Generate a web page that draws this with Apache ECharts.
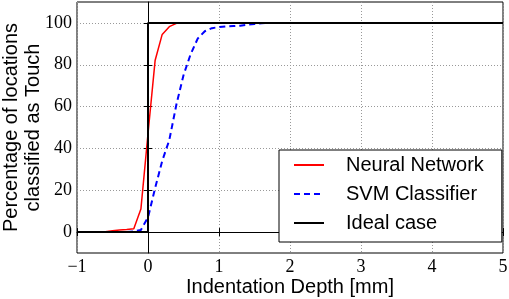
<!DOCTYPE html>
<html>
<head>
<meta charset="utf-8">
<script src="https://cdn.jsdelivr.net/npm/echarts@6/dist/echarts.min.js"></script>
<style>
html,body{margin:0;padding:0;background:#fff;}
#c{width:509px;height:299px;}
</style>
</head>
<body>
<div id="c"></div>
<script>
// Data
var nnX = [-1, -0.9, -0.8, -0.7, -0.6, -0.5, -0.4, -0.3, -0.2, -0.1, 0, 0.1, 0.2, 0.3, 0.4, 0.5, 5];
var nnY = [0, 0, 0, 0, 0.2, 0.6, 1, 1.2, 1.6, 11, 47, 82, 94.5, 98.2, 99.8, 100, 100];

var svmX = [-1, -0.9, -0.8, -0.7, -0.6, -0.5, -0.4, -0.3, -0.2, -0.1, 0, 0.1, 0.2, 0.3, 0.4, 0.5, 0.6, 0.7, 0.8, 0.9, 1.0, 1.1, 1.2, 1.3, 1.4, 1.5, 1.6, 1.7, 5];
var svmY = [0, 0, 0, 0, 0, 0, 0, 0, 0.3, 1, 7, 21, 34, 44, 61, 75, 85, 92.5, 96, 97.5, 98, 98.3, 98.5, 98.7, 99.2, 99.5, 99.8, 100, 100];

var idealX = [-1, 0, 0, 5];
var idealY = [0, 0, 100, 100];

var xTicks = [-1, 0, 1, 2, 3, 4, 5];
var yTicks = [0, 20, 40, 60, 80, 100];

var seriesNames = ['Neural Network', 'SVM Classifier', 'Ideal case'];

function pairs(xs, ys) { return xs.map(function (x, i) { return [x, ys[i]]; }); }
function fmtNum(v) { return (v < 0 ? '\u2212' + Math.abs(v) : String(v)); }

var serif = 'Liberation Serif';
var sans = 'Liberation Sans';

var chart = echarts.init(document.getElementById('c'), null, { renderer: 'canvas' });
chart.setOption({
  animation: false,
  backgroundColor: '#fff',
  grid: { left: 77, right: 6, top: 2, bottom: 46, show: true, borderColor: '#000', borderWidth: 1, containLabel: false, outerBoundsMode: 'none' },
  legend: {
    orient: 'vertical',
    left: 279, top: 150,
    data: seriesNames,
    backgroundColor: '#fff',
    borderColor: '#000',
    borderWidth: 1,
    borderRadius: 0,
    padding: [5, 18, 9, 14],
    itemWidth: 30,
    itemHeight: 14,
    itemGap: 9,
    itemStyle: { opacity: 0 },
    textStyle: { fontFamily: sans, fontSize: 20, color: '#000', padding: [0, 0, 0, 17] }
  },
  xAxis: [{
    type: 'value', min: -1, max: 5, interval: 1,
    name: 'Indentation Depth [mm]', nameLocation: 'middle', nameGap: 24, nameMoveOverlap: false,
    nameTextStyle: { fontFamily: sans, fontSize: 20, color: '#000' },
    axisLine: { show: true, lineStyle: { color: '#000', width: 1 } },
    axisTick: { show: true, inside: true, length: 4, lineStyle: { color: '#000' } },
    axisLabel: { formatter: fmtNum, margin: 5, fontFamily: serif, fontSize: 18, color: '#000', customValues: xTicks },
    splitLine: { show: true, lineStyle: { color: '#999', type: [1, 2], width: 1 } }
  }, {
    type: 'value', min: -1, max: 5, interval: 1, position: 'top',
    axisLine: { show: false },
    axisTick: { show: true, inside: true, length: 4, lineStyle: { color: '#000' } },
    axisLabel: { show: false },
    splitLine: { show: false }
  }],
  yAxis: [{
    type: 'value', min: -10, max: 110,
    name: 'Percentage of locations\nclassified as Touch', nameLocation: 'middle', nameRotate: 90, nameGap: 33, nameMoveOverlap: false,
    nameTextStyle: { fontFamily: sans, fontSize: 20, lineHeight: 22, color: '#000', align: 'center' },
    axisLine: { show: true, lineStyle: { color: '#000', width: 1 } },
    axisTick: { show: true, inside: true, length: 4, lineStyle: { color: '#000' }, customValues: yTicks },
    axisLabel: { margin: 5, fontFamily: serif, fontSize: 18, color: '#000', customValues: yTicks },
    splitLine: { show: true, lineStyle: { color: '#999', type: [1, 2], width: 1 } }
  }, {
    type: 'value', min: -10, max: 110, position: 'right',
    axisLine: { show: false },
    axisTick: { show: true, inside: true, length: 4, lineStyle: { color: '#000' }, customValues: yTicks },
    axisLabel: { show: false, customValues: yTicks },
    splitLine: { show: false }
  }],
  series: [{
    name: seriesNames[0], type: 'line', showSymbol: false, symbol: 'none',
    data: pairs(nnX, nnY),
    lineStyle: { color: '#ff0000', width: 1.5 }, itemStyle: { color: '#ff0000' }, z: 2
  }, {
    name: seriesNames[1], type: 'line', showSymbol: false, symbol: 'none',
    data: pairs(svmX, svmY),
    lineStyle: { color: '#0000ff', width: 2, type: [6, 4] }, itemStyle: { color: '#0000ff' }, z: 3
  }, {
    name: seriesNames[2], type: 'line', showSymbol: false, symbol: 'none',
    data: pairs(idealX, idealY),
    lineStyle: { color: '#000', width: 2 }, itemStyle: { color: '#000' }, z: 4
  }]
});
</script>
</body>
</html>
